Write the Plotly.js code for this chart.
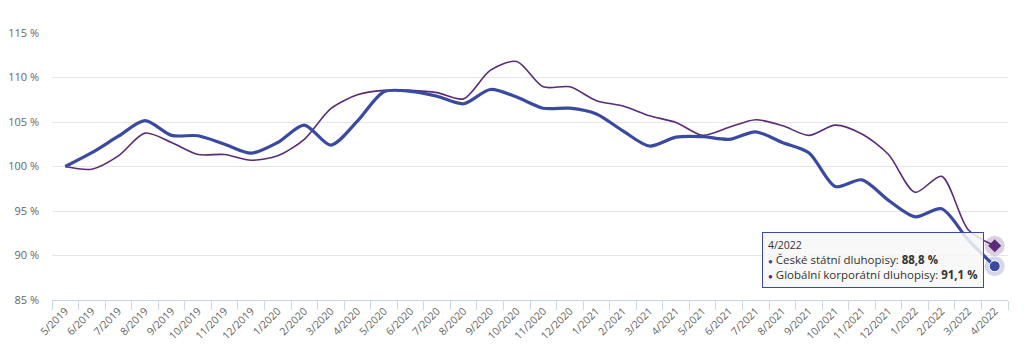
<!DOCTYPE html>
<html>
<head>
<meta charset="utf-8">
<script src="https://cdn.plot.ly/plotly-3.0.1.min.js"></script>
<style>html,body{margin:0;padding:0;background:#fff;}#chart{width:1024px;height:358px;}</style>
</head>
<body>
<div id="chart"></div>
<script>
const months = ["5/2019","6/2019","7/2019","8/2019","9/2019","10/2019","11/2019","12/2019","1/2020","2/2020","3/2020","4/2020","5/2020","6/2020","7/2020","8/2020","9/2020","10/2020","11/2020","12/2020","1/2021","2/2021","3/2021","4/2021","5/2021","6/2021","7/2021","8/2021","9/2021","10/2021","11/2021","12/2021","1/2022","2/2022","3/2022","4/2022"];
const czechGov = [100,101.55,103.4,105.15,103.5,103.45,102.5,101.5,102.7,104.65,102.4,105.1,108.4,108.45,107.9,107.05,108.65,107.8,106.55,106.55,105.9,104.0,102.3,103.3,103.35,103.05,103.9,102.7,101.55,97.75,98.5,96.2,94.35,95.25,91.75,88.8];
const globalCorp = [100,99.7,101.2,103.75,102.7,101.35,101.35,100.7,101.2,103.05,106.5,108.05,108.55,108.55,108.3,107.6,110.8,111.8,108.95,108.95,107.4,106.8,105.7,104.95,103.5,104.4,105.25,104.6,103.5,104.65,103.65,101.35,97.1,98.9,92.9,91.1];
const seriesNames = ["České státní dluhopisy","Globální korporátní dluhopisy"];
const blue = "#3a4aa0", purple = "#5b2a78";
const last = months.length - 1;
const fmt = v => v.toFixed(1).replace(".", ",") + " %";

const traces = [
  {x: months, y: globalCorp, type: "scatter", mode: "lines", line: {color: purple, width: 1.6, shape: "spline", smoothing: 0.8}, name: seriesNames[1]},
  {x: months, y: czechGov, type: "scatter", mode: "lines", line: {color: blue, width: 3.2, shape: "spline", smoothing: 0.8}, name: seriesNames[0]},
  {x: [months[last]], y: [globalCorp[last]], type: "scatter", mode: "markers", marker: {symbol: "circle", size: 20, color: "rgba(91,42,120,0.22)"}},
  {x: [months[last]], y: [globalCorp[last]], type: "scatter", mode: "markers", marker: {symbol: "diamond", size: 10, color: purple}},
  {x: [months[last]], y: [czechGov[last]], type: "scatter", mode: "markers", marker: {symbol: "circle", size: 20, color: "rgba(58,74,160,0.22)"}},
  {x: [months[last]], y: [czechGov[last]], type: "scatter", mode: "markers", marker: {symbol: "circle", size: 11, color: blue, line: {color: "#fff", width: 1}}}
];

const tip = '<span style="font-size:10.5px;color:#333">' + months[last] + '</span><br>' +
  '<span style="color:' + blue + ';font-size:8px">●</span> ' + seriesNames[0] + ': <b>' + fmt(czechGov[last]) + '</b><br>' +
  '<span style="color:' + purple + ';font-size:8px">●</span> ' + seriesNames[1] + ': <b>' + fmt(globalCorp[last]) + '</b>';

const layout = {
  width: 1024, height: 358,
  margin: {l: 52, r: 16, t: 33, b: 58},
  paper_bgcolor: "#fff", plot_bgcolor: "#fff",
  showlegend: false,
  hovermode: false,
  font: {family: "Open Sans, sans-serif", color: "#666", size: 11},
  xaxis: {
    type: "category", range: [-0.5, 35.5], tickangle: -45,
    tickson: "boundaries", ticks: "outside", ticklen: 9, tickcolor: "#ccd6eb", tickwidth: 1,
    showline: true, linecolor: "#ccd6eb", linewidth: 1, showgrid: false, zeroline: false,
    tickfont: {size: 10.5, color: "#666"}, fixedrange: true
  },
  yaxis: {
    range: [85, 115], dtick: 5, tick0: 85, ticksuffix: " %",
    gridcolor: "#e6e6e6", gridwidth: 1, zeroline: false, showline: false,
    ticklabelstandoff: 12,
    tickfont: {size: 11, color: "#666"}, fixedrange: true
  },
  annotations: [{
    xref: "paper", yref: "paper", x: (762 - 52) / 956, y: (300 - 232) / 267,
    xanchor: "left", yanchor: "top", align: "left", showarrow: false,
    text: tip, font: {family: "Open Sans, sans-serif", size: 11.5, color: "#333"},
    bgcolor: "rgba(247,247,247,0.85)", bordercolor: blue, borderwidth: 1, borderpad: 5
  }]
};

Plotly.newPlot("chart", traces, layout, {displayModeBar: false, staticPlot: true});
</script>
</body>
</html>
